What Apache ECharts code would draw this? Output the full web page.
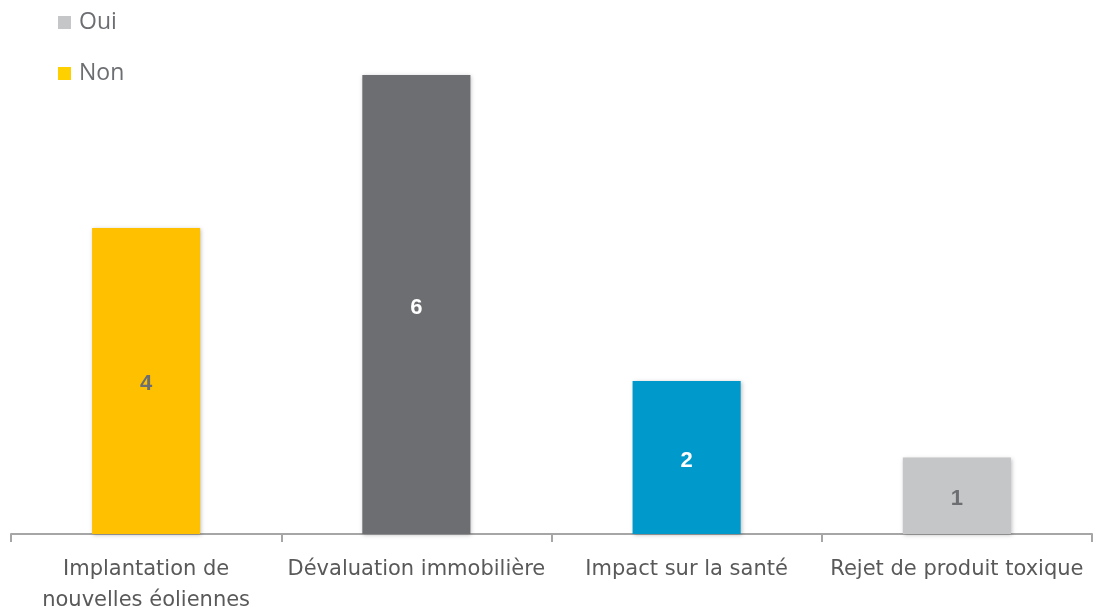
<!DOCTYPE html>
<html>
<head>
<meta charset="utf-8">
<script src="https://cdn.jsdelivr.net/npm/echarts@6/dist/echarts.min.js"></script>
<style>
html, body { margin: 0; padding: 0; background: #fff; }
#chart { width: 1094px; height: 612px; }
</style>
</head>
<body>
<div id="chart"></div>
<script>
var categories = ['Implantation de\nnouvelles éoliennes', 'Dévaluation immobilière', 'Impact sur la santé', 'Rejet de produit toxique'];
var values = [4, 6, 2, 1];
var legendNames = ['Oui', 'Non'];

var barColors = ['#FFC000', '#6D6E71', '#0099CC', '#C5C6C8'];
var labelColors = ['#6D6E71', '#FFFFFF', '#FFFFFF', '#6D6E71'];
var legendColors = ['#C5C6C8', '#FFD000'];

var myChart = echarts.init(document.getElementById('chart'));

var series = [{
    type: 'bar',
    barWidth: '40%',
    data: values.map(function (v, i) {
        return {
            value: v,
            itemStyle: { color: barColors[i] },
            label: { color: labelColors[i] }
        };
    }),
    itemStyle: {
        shadowBlur: 4,
        shadowColor: 'rgba(0,0,0,0.25)',
        shadowOffsetX: 1,
        shadowOffsetY: 1
    },
    label: {
        show: true,
        position: 'inside',
        offset: [0, 3],
        fontSize: 22,
        fontWeight: 'bold',
        fontFamily: 'Liberation Sans'
    }
}];
// legend-only series
legendNames.forEach(function (name, i) {
    series.push({
        name: name,
        type: 'line',
        data: [],
        itemStyle: { color: legendColors[i] }
    });
});

myChart.setOption({
    animation: false,
    legend: {
        orient: 'vertical',
        left: 53,
        top: 6,
        icon: 'rect',
        itemWidth: 13,
        itemHeight: 13,
        itemGap: 28,
        data: legendNames,
        textStyle: { fontSize: 23, color: '#6D6E71', fontFamily: 'Open Sans', padding: [0, 0, 0, 3] }
    },
    grid: { left: 11, right: 2, top: 75, bottom: 78, containLabel: false, outerBoundsMode: 'none' },
    xAxis: {
        type: 'category',
        data: categories,
        axisLine: { lineStyle: { color: '#A6A6A6', width: 2 } },
        axisTick: { show: true, length: 8, lineStyle: { color: '#A6A6A6', width: 2 } },
        axisLabel: {
            fontSize: 21,
            color: '#595959',
            fontFamily: 'DejaVu Sans',
            margin: 20,
            lineHeight: 31,
            interval: 0
        }
    },
    yAxis: {
        type: 'value',
        min: 0,
        max: 6,
        show: false,
        splitLine: { show: false }
    },
    series: series
});
</script>
</body>
</html>
